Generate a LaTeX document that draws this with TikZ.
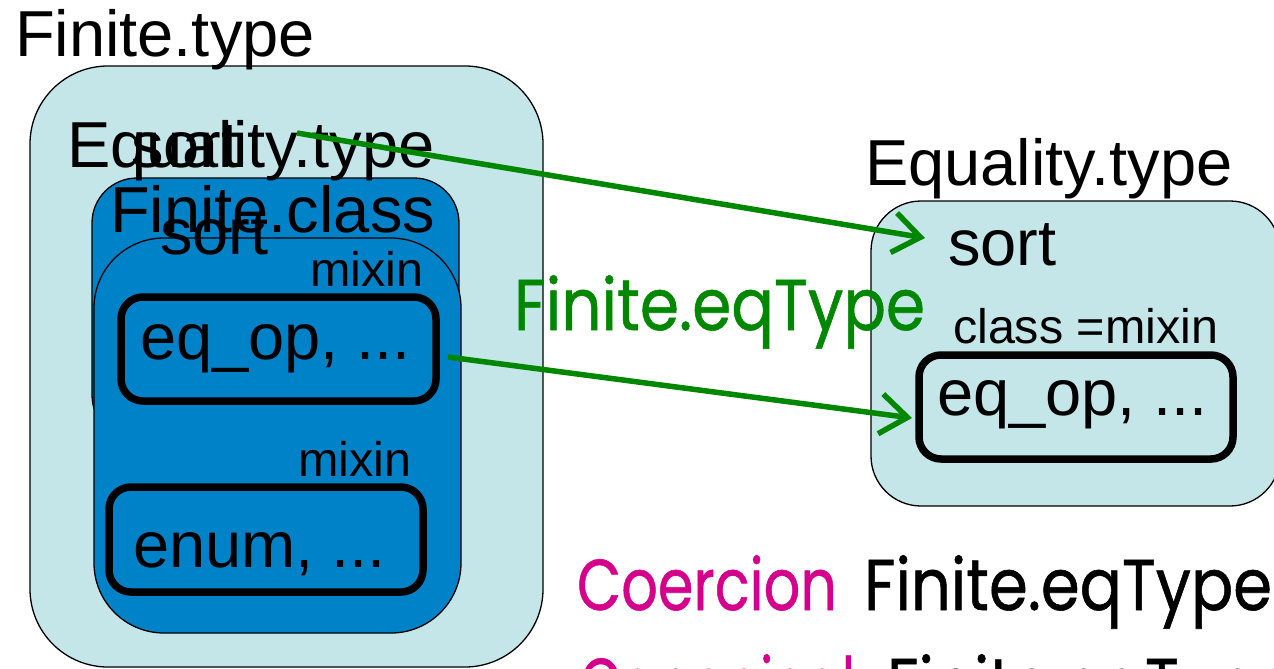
\documentclass[tikz,border=0pt]{standalone}
\usepackage{fontspec}
\setmainfont{Liberation Sans}
\newfontfamily\handfont{Poppins}[FakeBold=0.8]
\usetikzlibrary{arrows.meta}
\definecolor{paleteal}{RGB}{197,230,232}
\definecolor{classblue}{RGB}{0,130,200}
\definecolor{arrowgreen}{RGB}{0,135,0}
\definecolor{coercepink}{RGB}{212,0,140}
\begin{document}
\begin{tikzpicture}[x=1pt,y=-1pt,
  panel/.style={draw=black, line width=1.3pt, inner sep=0pt, outer sep=0pt},
  field/.style={draw=black, line width=7.5pt, rounded corners=22pt, inner sep=0pt, outer sep=0pt},
  lbl/.style={anchor=base west, inner sep=0pt, outer sep=0pt, font=\fontsize{65}{78}\selectfont},
  small/.style={anchor=base west, inner sep=0pt, outer sep=0pt, font=\fontsize{48.5}{58}\selectfont},
  hand/.style={anchor=base west, inner sep=0pt, outer sep=0pt, font=\handfont\fontsize{72}{86}\selectfont},
  link/.style={draw=arrowgreen, line width=5.5pt, -{Straight Barb[length=27pt,width=40pt]}}
]
\useasboundingbox (0,0) rectangle (1274,669);
\clip (0,0) rectangle (1274,669);

% Finite.type structure
\node[panel, fill=paleteal, rounded corners=78pt, minimum width=513pt, minimum height=601pt] (ftype) at (286.5,366.5) {};
\node[panel, fill=classblue, rounded corners=45pt, minimum width=367pt, minimum height=262pt] (fclass) at (275.5,309) {};
\node[panel, fill=classblue, rounded corners=70pt, minimum width=367pt, minimum height=395pt] (fmix) at (277.5,435.5) {};
\node[field, minimum width=315pt, minimum height=104pt] (eqbox) at (278.5,349) {};
\node[field, minimum width=314pt, minimum height=105pt] (enumbox) at (266,539.5) {};

\node[lbl] (ftypelbl) at (15,57) {Finite.type};
\node[lbl] (eqtypelbl) at (67,167) {Equality.type};
\node[lbl] (sortA) at (131,167) {sort};
\node[lbl] (fclasslbl) at (110,232) {Finite.class};
\node[lbl] (sortB) at (160,254) {sort};
\node[small] (mixinA) at (310,286) {mixin};
\node[lbl] (eqopA) at (140,359) {eq\_op, ...};
\node[small] (mixinB) at (298,476) {mixin};
\node[lbl] (enumA) at (133,567) {enum, ...};

% Equality.type structure
\node[lbl] (reqtypelbl) at (865,185) {Equality.type};
\node[panel, fill=paleteal, rounded corners=50pt, minimum width=409pt, minimum height=305pt] (eqtype) at (1075.5,353.5) {};
\node[field, minimum width=314pt, minimum height=104pt] (reqbox) at (1076,407) {};
\node[lbl] (rsort) at (948,265) {sort};
\node[small] (rclass) at (953,343) {class =mixin};
\node[lbl] (reqop) at (937,415) {eq\_op, ...};

% coercion arrows
\node[hand, text=arrowgreen] (eqTypelbl) at (514,330) {\resizebox{411pt}{\height}{Finite.eqType}};
\coordinate (sortsrc) at (297,133);
\coordinate (sorttgt) at (925,238);
\coordinate (opsrc) at (448,357);
\coordinate (optgt) at (912,418);
\draw[link] (sortsrc) -- (sorttgt);
\draw[link] (opsrc) -- (optgt);

% declarations
\node[hand, text=coercepink] (coercion) at (577,610) {\resizebox{260pt}{\height}{Coercion}};
\node[hand] (coercionarg) at (864,610) {\resizebox{408pt}{\height}{Finite.eqType}};
\node[hand, text=coercepink] (canonical) at (580,709) {\resizebox{275pt}{\height}{Canonical}};
\node[hand] (canonicalarg) at (887,709) {\resizebox{408pt}{\height}{Finite.eqType}};
\end{tikzpicture}
\end{document}
